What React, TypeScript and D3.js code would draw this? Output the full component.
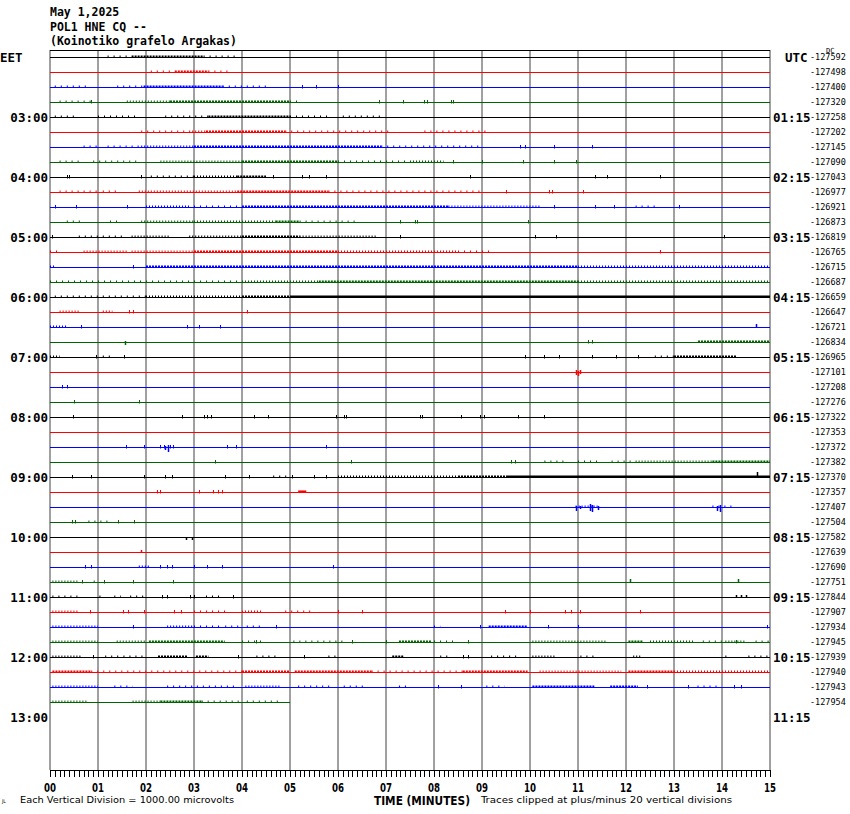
import React from "react";
import * as d3 from "d3";

const titleLines = ["May 1,2025", "POL1 HNE CQ --", "(Koinotiko grafelo Argakas)"];
const minuteLabels = ["00","01","02","03","04","05","06","07","08","09","10","11","12","13","14","15"];
const leftHourLabels = ["EET","03:00","04:00","05:00","06:00","07:00","08:00","09:00","10:00","11:00","12:00","13:00"];
const rightHourLabels = ["UTC","01:15","02:15","03:15","04:15","05:15","06:15","07:15","08:15","09:15","10:15","11:15"];
const dcOffsets = [-127592,-127498,-127400,-127320,-127258,-127202,-127145,-127090,-127043,-126977,-126921,-126873,-126819,-126765,-126715,-126687,-126659,-126647,-126721,-126834,-126965,-127101,-127208,-127276,-127322,-127353,-127372,-127382,-127370,-127357,-127407,-127504,-127582,-127639,-127690,-127751,-127844,-127907,-127934,-127945,-127939,-127940,-127943,-127954];
const traceColors = ["#000000", "#ff0000", "#0000ff", "#006400"];
const lastTraceEndMinute = 5.0;

// per row: [startMinute, endMinute, activityLevel]
const noiseBands: number[][][] = [
  [[1.2,1.7,1],[1.7,3.2,2],[3.2,3.9,1]],
  [[2.1,2.6,1],[2.6,3.3,2],[3.3,3.8,1]],
  [[0.1,0.8,1],[1.4,1.95,1],[1.95,3.6,2],[3.6,4.6,1]],
  [[0.2,0.9,1],[1.6,2.5,1.5],[2.5,5.0,2],[5.0,5.2,1]],
  [[0.1,0.5,1],[1.0,1.8,1],[2.4,3.3,1],[3.3,5.0,2],[5.0,5.8,1],[6.1,6.9,1]],
  [[1.9,2.9,1],[2.9,3.25,1.5],[3.25,4.9,2],[4.9,7.1,1],[7.8,9.1,1]],
  [[0.7,1.0,1],[1.2,1.9,1],[1.9,3.0,1.5],[3.0,6.9,2],[6.9,9.0,1]],
  [[0.2,0.6,1],[0.9,1.8,1],[2.3,4.0,1.5],[4.0,6.0,2],[6.0,7.5,1],[7.5,8.2,1.5]],
  [[2.1,3.0,1],[3.0,3.9,1.5],[3.9,4.5,2]],
  [[0.2,1.0,1],[1.1,1.4,1],[1.85,3.9,1.5],[3.9,5.8,2],[5.8,9.0,1]],
  [[2.0,2.9,1.5],[3.0,4.0,1],[4.0,8.3,2],[8.3,10.2,1.5],[12.2,12.6,1]],
  [[0.35,0.7,1],[1.25,1.5,1],[1.9,3.0,1.5],[3.0,4.7,1.5],[4.7,5.2,2],[5.2,6.4,1]],
  [[0.6,1.6,1],[1.7,2.5,1.5],[2.9,4.0,1.5],[4.0,5.2,2],[5.2,6.8,1.5]],
  [[0.0,0.25,1],[0.7,1.6,1.5],[1.7,3.0,1.5],[3.0,6.0,2],[6.0,8.5,1.5],[8.5,9.2,1]],
  [[0.0,0.1,1.5],[2.0,11.0,2],[11.0,15.0,1.5]],
  [[0.0,2.0,1],[2.0,4.0,1],[4.0,5.6,1.5],[5.6,11.0,2],[11.0,15.0,1.5]],
  [[0.1,2.0,1],[2.0,4.0,1.5],[4.0,5.0,2],[5.0,15.0,2.5]],
  [[0.2,0.6,1.5],[1.1,1.3,1.5]],
  [[0.0,0.35,1.5]],
  [[13.5,15.0,2]],
  [[0.0,0.2,1.5],[1.1,1.3,1],[12.6,13.0,1],[13.0,14.3,2]],
  [],
  [],
  [],
  [],
  [],
  [],
  [[10.3,10.7,1],[11.0,11.5,1],[11.7,12.1,1],[12.2,13.8,1.5],[13.8,15.0,2]],
  [[4.65,5.0,1],[6.0,8.5,1.5],[8.5,9.5,2],[9.5,15.0,2.5]],
  [[5.17,5.34,3]],
  [[10.95,11.45,1.5],[13.8,14.25,1]],
  [[0.8,1.2,1]],
  [],
  [],
  [[1.85,2.1,1.5]],
  [[0.05,0.57,1.5],[0.91,1.0,1]],
  [[0.05,0.57,1],[1.03,1.15,1],[1.34,1.48,1],[1.67,1.96,1],[3.25,3.59,1]],
  [[0.05,0.6,1.5],[3.0,3.7,1],[4.0,4.4,1.5],[4.9,5.45,1]],
  [[0.05,1.0,1.5],[2.44,2.97,1.5],[3.0,3.6,1],[3.65,3.92,1],[4.1,4.45,1],[8.0,8.13,1],[9.14,9.95,2]],
  [[0.05,1.0,1.5],[1.39,2.0,1.5],[2.06,3.64,2],[4.0,4.5,1],[5.07,6.1,1],[7.27,7.94,2],[8.0,8.4,1],[10.05,11.6,1.5],[12.05,12.35,2],[12.5,13.4,1.5],[13.6,14.0,1],[14.07,14.5,1.5],[14.7,15.0,1]],
  [[0.05,0.67,1.5],[1.15,1.43,1],[1.53,2.0,1],[2.25,2.87,2],[3.04,3.3,2],[4.3,4.7,1],[5.8,6.0,1],[7.13,7.37,2],[8.13,8.33,1],[9.19,9.76,1],[10.05,10.53,1.5],[11.05,11.39,1],[12.15,12.3,1.5],[14.07,14.16,1],[14.55,15.0,1]],
  [[0.05,0.86,2],[0.86,4.0,1],[4.0,5.0,2],[5.1,6.7,2],[6.7,8.6,1],[8.6,9.95,2],[10.2,11.9,1.5],[12.05,13.0,2],[13.0,15.0,1.5]],
  [[0.05,1.0,1.5],[1.34,1.72,1],[2.44,2.97,1],[3.06,3.92,1],[4.07,4.78,1.5],[5.17,5.84,1],[6.12,6.6,1],[7.27,7.46,1],[9.09,9.47,1],[10.05,11.34,2],[11.67,12.25,2],[13.49,13.97,1]],
  [[0.05,0.77,1.5],[1.72,2.3,1.5],[2.3,3.16,2],[3.16,4.0,1],[4.1,4.78,1]],
];

// per row: minutes of isolated small spikes
const smallSpikes: number[][] = [
  [], [], [5.25,5.55,6.0], [0.85,6.85,7.35,7.8,7.85,8.35,8.4], [], [],
  [9.8,9.9,10.5,11.3], [8.4,9.0,9.85,10.5,10.95],
  [0.35,0.4,1.9,4.65,5.25,5.4,5.75,8.75,11.35,11.6,12.7],
  [9.5,10.4,10.45,11.1], [0.1,0.55,1.6,10.5,11.35,11.75,13.1], [7.3,7.6,7.65,9.95],
  [0.05,7.3,10.1,10.55,14.05], [12.7], [1.72], [], [], [1.65,1.72,4.1],
  [0.65,2.85,3.1,3.55], [11.2,11.3], [0.95,1.55,9.9,10.3,10.6,11.3,11.8,12.25], [],
  [0.25,0.35], [0.5,1.85],
  [0.48,2.75,3.2,3.28,3.35,4.26,4.55,5.96,6.12,6.17,7.7,7.75,8.56,8.95,9.05,9.76,10.29],
  [], [1.58,1.96,2.3,2.38,2.5,2.56,3.68,3.88,5.74], [3.43,6.27,9.6,9.69],
  [0.45,0.85,1.95,2.4,2.55,3.65,4.15,5.05,5.5,5.75], [2.22,2.3,3.11,3.4,3.49,3.59],
  [], [0.45,0.53,1.42,1.75], [], [], [0.72,0.86,2.3,2.44,2.54,3.0,3.28,3.59,5.9],
  [0.67,1.12,1.72,2.56], [2.34,2.44,2.92,3.0,3.81],
  [0.84,1.53,1.63,1.96,2.58,2.73,6.0,6.5,9.47,10.0,10.72,10.86,11.05,12.3],
  [1.72,4.7,8.95,10.38,11.0,14.93], [4.3,6.3,7.0,8.7,14.3], [0.9,3.92,5.3,8.6,8.7],
  [], [8.09,8.56,12.44,13.3,14.26,14.4], [],
];

// larger events: [row, minute, up, down]
const events: number[][] = [
  [18,14.7,3,0],[19,1.57,1,2],[21,10.95,2,2],[21,11.0,1,3],[21,11.05,2,1],
  [26,2.4,1,2],[26,2.45,2,4],[28,14.72,5,0],
  [30,10.95,1,3],[30,11.05,1,1],[30,11.25,3,3],[30,11.3,2,4],[30,11.42,1,2],
  [30,13.9,1,3],[30,13.95,2,4],[32,2.84,0,2],[32,2.95,0,2],[33,1.9,2,0],
  [35,12.08,3,0],[35,14.33,3,0],[36,14.3,2,0],[36,14.4,2,0],[36,14.5,2,0],
];

const levelStyle = (level: number) => {
  if (level >= 2.5) return { w: 2.5, dash: undefined as string | undefined };
  if (level >= 2) return { w: 2.5, dash: "2 1" };
  if (level >= 1.5) return { w: 2.5, dash: "1 2" };
  return { w: 2.2, dash: "1 5" };
};

export default function App() {
  const nRows = dcOffsets.length;
  const x = d3.scaleLinear().domain([0, 15]).range([50, 770]);
  const y = d3.scaleLinear().domain([0, nRows]).range([57.5, 57.5 + 15 * nRows]);
  const amp = d3.scaleLinear().domain([0, 1]).range([0, 1]);
  const minorTicks = d3.range(0, 151).map((i) => i / 10);
  const mono = "DejaVu Sans Mono, monospace";
  const cond = "DejaVu Sans Condensed, DejaVu Sans, sans-serif";

  return (
    <svg width={850} height={814} style={{ position: "absolute", left: 0, top: 0, background: "#fff" }}>
      <rect x={0} y={0} width={850} height={814} fill="#fff" />
      {titleLines.map((t, i) => (
        <text key={t} x={50} y={16 + i * 14.5} fontFamily={mono} fontSize={11.5} fontWeight="bold" fill="#000">{t}</text>
      ))}
      {/* grid */}
      {minuteLabels.map((_, m) => (
        <line key={"g" + m} x1={x(m)} x2={x(m)} y1={50} y2={770} stroke="#808080" strokeWidth={1.5} />
      ))}
      <line x1={x(0)} x2={x(15)} y1={50.5} y2={50.5} stroke="#000" strokeWidth={1} />
      {/* traces */}
      {dcOffsets.map((dc, r) => {
        const col = traceColors[r % 4];
        const yy = y(r);
        const end = r === nRows - 1 ? lastTraceEndMinute : 15;
        return (
          <g key={"r" + r}>
            <line x1={x(0)} x2={x(end)} y1={yy} y2={yy} stroke={col} strokeWidth={1.2} />
            {(noiseBands[r] || []).map((b, i) => {
              const s = levelStyle(b[2]);
              return (
                <line key={"b" + i} x1={x(b[0])} x2={x(Math.min(b[1], end))} y1={yy - 0.8} y2={yy - 0.8}
                  stroke={col} strokeWidth={s.w} strokeDasharray={s.dash} />
              );
            })}
            {(smallSpikes[r] || []).map((m, i) => (
              <line key={"s" + i} x1={Math.round(x(m)) + 0.5} x2={Math.round(x(m)) + 0.5}
                y1={yy - amp(2.5)} y2={yy + amp(1)} stroke={col} strokeWidth={1} />
            ))}
            <text x={810} y={yy} dy="0.35em" fontFamily={mono} fontSize={8.5} fill="#000">{dc}</text>
          </g>
        );
      })}
      {events.map((e, i) => {
        const col = traceColors[e[0] % 4];
        const yy = y(e[0]);
        const xx = Math.round(x(e[1])) + 0.5;
        return (
          <line key={"e" + i} x1={xx} x2={xx} y1={yy - amp(e[2]) - 0.5} y2={yy + amp(e[3]) + 0.5}
            stroke={col} strokeWidth={1.5} />
        );
      })}
      <text x={826} y={53} fontFamily={mono} fontSize={7} fill="#000">DC</text>
      {/* hour labels */}
      {leftHourLabels.map((t, i) => (
        <text key={"l" + t} x={i === 0 ? 0 : 48} y={y(i * 4)} dy="0.36em" textAnchor={i === 0 ? "start" : "end"}
          fontFamily={mono} fontSize={12.5} fontWeight="bold" fill="#000">{t}</text>
      ))}
      {rightHourLabels.map((t, i) => (
        <text key={"rt" + t} x={i === 0 ? 785 : 773} y={y(i * 4)} dy="0.36em"
          fontFamily={mono} fontSize={12.5} fontWeight="bold" fill="#000">{t}</text>
      ))}
      {/* bottom axis */}
      <line x1={x(0)} x2={x(15)} y1={770.5} y2={770.5} stroke="#000" strokeWidth={1.2} />
      {minorTicks.map((m, i) => (
        <line key={"t" + i} x1={Math.round(x(m)) + 0.5} x2={Math.round(x(m)) + 0.5} y1={770} y2={777} stroke="#000" strokeWidth={1} />
      ))}
      {minuteLabels.map((t, m) => (
        <text key={"ml" + t} x={x(m)} y={791.5} textAnchor="middle" fontFamily={cond} fontSize={13} fontWeight="bold"
          textLength={12} lengthAdjust="spacingAndGlyphs" fill="#000">{t}</text>
      ))}
      <text x={374} y={805} fontFamily={cond} fontSize={11.5} fontWeight="bold" textLength={96} lengthAdjust="spacingAndGlyphs" fill="#000">TIME (MINUTES)</text>
      <text x={20} y={803} fontFamily={cond} fontSize={8} textLength={214} lengthAdjust="spacingAndGlyphs" fill="#000">Each Vertical Division = 1000.00 microvolts</text>
      <text x={481} y={803} fontFamily={cond} fontSize={8} textLength={251} lengthAdjust="spacingAndGlyphs" fill="#000">Traces clipped at plus/minus 20 vertical divisions</text>
      <text x={2} y={803} fontFamily={cond} fontSize={5} fill="#000">JL</text>
    </svg>
  );
}
